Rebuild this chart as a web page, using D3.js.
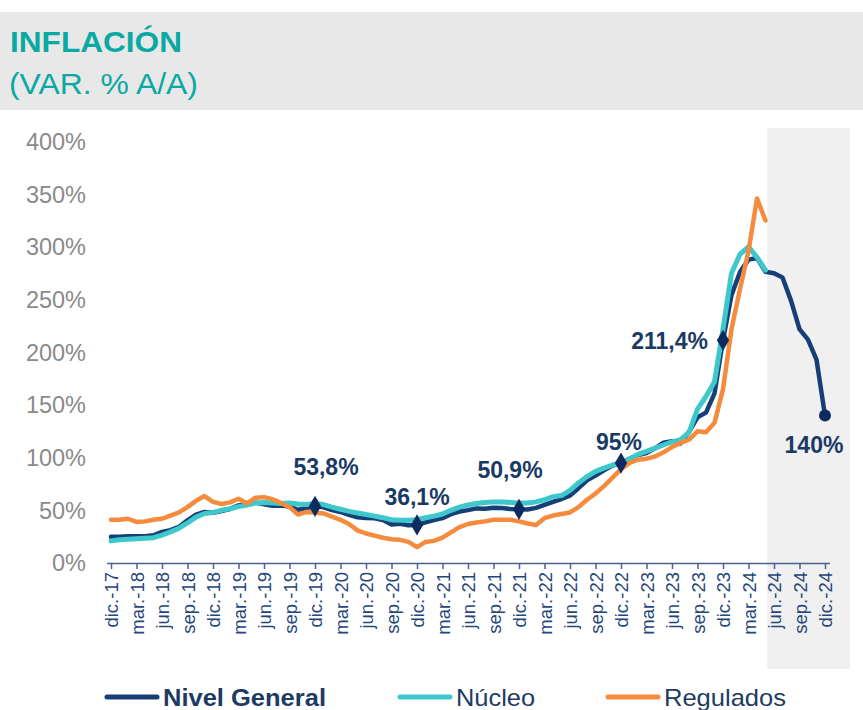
<!DOCTYPE html>
<html>
<head>
<meta charset="utf-8">
<script src="https://cdn.jsdelivr.net/npm/d3@7"></script>
<style>
  body { margin: 0; background: #fff; }
  svg { display: block; font-family: "Liberation Sans", Arial, sans-serif; }
</style>
</head>
<body>
<div id="chart"></div>
<script>
// Data: monthly year-over-year inflation, dic-17 .. dic-24
const tickLabels = ["dic.-17","mar.-18","jun.-18","sep.-18","dic.-18","mar.-19","jun.-19","sep.-19",
  "dic.-19","mar.-20","jun.-20","sep.-20","dic.-20","mar.-21","jun.-21","sep.-21","dic.-21",
  "mar.-22","jun.-22","sep.-22","dic.-22","mar.-23","jun.-23","sep.-23","dic.-23","mar.-24",
  "jun.-24","sep.-24","dic.-24"];

const nivelGeneral = [24.8,
  25.0, 25.4, 25.4, 25.5, 26.3, 29.5, 31.2, 34.4, 40.5, 45.9, 48.5, 47.6,
  49.3, 51.3, 54.7, 55.8, 57.3, 55.8, 54.4, 54.5, 53.5, 50.5, 52.1, 53.8,
  52.9, 50.3, 48.4, 45.6, 43.4, 42.8, 42.4, 40.7, 36.6, 37.2, 35.8, 36.1,
  38.5, 40.7, 42.6, 46.3, 48.8, 50.2, 51.8, 51.4, 52.5, 52.1, 51.2, 50.9,
  50.7, 52.3, 55.1, 58.0, 60.7, 64.0, 71.0, 78.5, 83.0, 88.0, 92.4, 94.8,
  98.8, 102.5, 104.3, 108.8, 114.2, 115.6, 113.4, 124.4, 138.3, 142.7, 160.9, 211.4,
  254.2, 276.2, 287.9, 289.4, 276.4, 275, 271, 249, 222, 212, 193, 140];

const nucleo = [21,
  22, 22.5, 23, 23.5, 24, 26.5, 29.5, 33, 38, 43.5, 47, 48,
  50, 51.5, 53.5, 55, 57, 57.5, 57, 56.5, 57, 56, 55.5, 56.5,
  55.5, 53, 51, 49, 47.5, 46, 44.5, 43, 41, 40.5, 40.5, 41,
  43, 44.5, 46.5, 50, 53, 55, 56.5, 57.5, 58, 58, 57.5, 57,
  57, 58, 60, 63, 64, 69, 76, 82, 87, 90, 93, 95,
  99, 103, 106, 109, 112, 115, 117, 124, 146, 158, 172, 222,
  275, 293, 300, 290, 278];

const regulados = [41,
  41, 42, 39, 39.5, 41, 42, 45, 48, 53, 59, 63.5, 58,
  56, 57.5, 61, 56.5, 62, 62.5, 60.5, 57, 53, 46, 48.5, 48,
  47, 44, 41, 37, 31, 28, 26, 24, 22.5, 22, 20, 15,
  20, 21, 24, 29, 34, 37, 38.5, 39.5, 41, 41, 41, 39.5,
  37.5, 36, 42.5, 45, 46.5, 48, 53, 60, 66, 73, 81, 89,
  95, 98, 99, 101, 105, 110, 114, 117, 125, 124, 133, 165,
  222, 260, 296, 346, 325];

const yTicks = [0, 50, 100, 150, 200, 250, 300, 350, 400];

// highlighted points of Nivel General (month index, label)
const markIdx = [24, 36, 48, 60, 72];
const markText = ["53,8%", "36,1%", "50,9%", "95%", "211,4%"];
const endIdx = 84;
const endText = "140%";
const projStart = 77.2; // start of shaded projection (month index)

const series = [
  { name: "Nivel General", values: nivelGeneral, color: "#163f78", width: 4.5, bold: true },
  { name: "Núcleo", values: nucleo, color: "#3ec8cc", width: 5, bold: false },
  { name: "Regulados", values: regulados, color: "#f58b3c", width: 4.5, bold: false }
];

const W = 863, H = 710;
const svg = d3.select("#chart").append("svg").attr("width", W).attr("height", H);

const x = d3.scaleLinear().domain([0, 84]).range([111, 825]);
const y = d3.scaleLinear().domain([0, 400]).range([563, 141.5]);

// header band
svg.append("rect").attr("x", 0).attr("y", 12).attr("width", W).attr("height", 98).attr("fill", "#e8e8e8");
svg.append("text").attr("x", 10).attr("y", 52).attr("fill", "#0aa9a4")
  .attr("font-size", 30).attr("font-weight", "bold")
  .attr("textLength", 172).attr("lengthAdjust", "spacingAndGlyphs").text("INFLACIÓN");
svg.append("text").attr("x", 9).attr("y", 94).attr("fill", "#0aa9a4")
  .attr("font-size", 30)
  .attr("textLength", 189).attr("lengthAdjust", "spacingAndGlyphs").text("(VAR. % A/A)");

// projection shading
svg.append("rect").attr("x", x(projStart)).attr("y", 128)
  .attr("width", 850 - x(projStart)).attr("height", 541).attr("fill", "#f0f0f0");

// y axis labels
svg.append("g").selectAll("text").data(yTicks).join("text")
  .attr("x", 86).attr("y", (d) => y(d)).attr("dy", "0.36em")
  .attr("text-anchor", "end").attr("font-size", 23.5).attr("fill", "#8a8a8a")
  .text((d) => d + "%");

// x axis
const xAxis = d3.axisBottom(x)
  .tickValues(tickLabels.map((d, i) => i * 3))
  .tickFormat((d) => tickLabels[d / 3])
  .tickSize(6).tickSizeOuter(0);

const gx = svg.append("g").attr("transform", `translate(0,${y(0)})`).call(xAxis);
gx.select(".domain").attr("stroke", "#4a6290").attr("stroke-width", 1.5)
  .attr("d", `M107,0.5H830`);
gx.selectAll(".tick line").attr("stroke", "#4a6290").attr("stroke-width", 1.5);
gx.selectAll(".tick text")
  .attr("font-size", 18.5).attr("fill", "#24467a")
  .attr("font-family", "'Liberation Sans', Arial, sans-serif")
  .attr("text-anchor", "end")
  .attr("transform", "rotate(-90)")
  .attr("x", -9).attr("y", 0).attr("dy", "0.36em");

// lines
const line = d3.line().x((d, i) => x(i)).y((d) => y(d));
series.forEach((s) => {
  svg.append("path").datum(s.values)
    .attr("fill", "none").attr("stroke", s.color).attr("stroke-width", s.width)
    .attr("stroke-linejoin", "round").attr("stroke-linecap", "round")
    .attr("d", line);
});

// markers and labels
const markColor = "#0c2b5e";
const labelColor = "#1a3a66";
const labelOffsets = [[11, -31, "middle"], [0, -20, "middle"], [-9, -31, "middle"], [-2, -13, "middle"], [-15, 9, "end"]];

svg.append("g").selectAll("path").data(markIdx).join("path")
  .attr("transform", (d) => `translate(${x(d)},${y(nivelGeneral[d])})`)
  .attr("d", d3.symbol(d3.symbolDiamond, 130))
  .attr("fill", markColor);

svg.append("g").selectAll("text").data(markIdx).join("text")
  .attr("x", (d, i) => x(d) + labelOffsets[i][0])
  .attr("y", (d, i) => y(nivelGeneral[d]) + labelOffsets[i][1])
  .attr("text-anchor", (d, i) => labelOffsets[i][2])
  .attr("font-size", 23).attr("font-weight", "bold").attr("fill", labelColor)
  .text((d, i) => markText[i]);

svg.append("circle").attr("cx", x(endIdx)).attr("cy", y(nivelGeneral[endIdx]))
  .attr("r", 6).attr("fill", markColor);
svg.append("text").attr("x", x(endIdx) - 11).attr("y", y(nivelGeneral[endIdx]) + 38)
  .attr("text-anchor", "middle").attr("font-size", 23).attr("font-weight", "bold")
  .attr("fill", labelColor).text(endText);

// legend
const legendX = [107, 400, 608];
const legendW = [163, 79, 122];
const legend = svg.append("g");
series.forEach((s, i) => {
  legend.append("line").attr("x1", legendX[i]).attr("x2", legendX[i] + 50)
    .attr("y1", 697).attr("y2", 697)
    .attr("stroke", s.color).attr("stroke-width", 5).attr("stroke-linecap", "round");
  legend.append("text").attr("x", legendX[i] + 56).attr("y", 706)
    .attr("font-size", 24).attr("font-weight", s.bold ? "bold" : "normal")
    .attr("fill", "#1d3b63")
    .attr("textLength", legendW[i]).attr("lengthAdjust", "spacingAndGlyphs")
    .text(s.name);
});
</script>
</body>
</html>
